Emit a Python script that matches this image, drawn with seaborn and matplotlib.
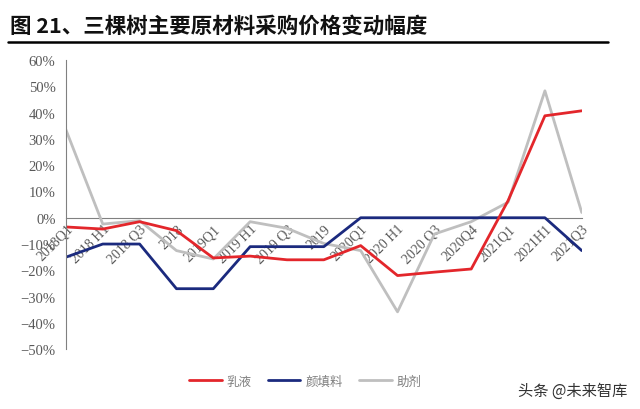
import matplotlib
matplotlib.use('Agg')
import matplotlib.pyplot as plt
import pandas as pd
import seaborn as sns
from matplotlib.ticker import PercentFormatter
from matplotlib.lines import Line2D

periods = ['2018Q1', '2018 H1', '2018 Q3', '2018', '2019Q1', '2019 H1', '2019 Q3', '2019',
           '2020Q1', '2020 H1', '2020 Q3', '2020Q4', '2021Q1', '2021H1', '2021Q3']
emulsion = [-3.5, -4.3, -1.5, -4.9, -15.3, -14.6, -16.0, -16.0, -10.6, -22.0, -20.7, -19.5, 6.5, 38.8, 40.7]
pigment = [-15.0, -10.0, -10.0, -27.0, -27.0, -11.0, -11.0, -11.0, 0, 0, 0, 0, 0, 0, -12.5]
additive = [33.5, -2.4, -1.1, -12.5, -15.7, -1.5, -4.0, -9.8, -12.5, -35.8, -6.2, -1.5, 5.9, 48.3, 2.0]
series_names = ['乳液', '颜填料', '助剂']
colors = ['#e3262b', '#1b2a7e', '#bfbfbf']

df = pd.DataFrame({'idx': list(range(len(periods))) * 3,
                   'value': emulsion + pigment + additive,
                   'series': [series_names[0]] * 15 + [series_names[1]] * 15 + [series_names[2]] * 15})

sns.set_style('white')
plt.rcParams['font.family'] = ['Noto Sans CJK SC', 'DejaVu Sans']

fig = plt.figure(figsize=(6.4, 4.1), dpi=100)
ax = fig.add_axes([0.103, 0.146, 0.806, 0.705])

# grey first so red/blue sit on top
order = ['助剂', '颜填料', '乳液']
pal = dict(zip(series_names, colors))
for name in order:
    sub = df[df['series'] == name]
    sns.lineplot(data=sub, x='idx', y='value', color=pal[name], linewidth=2.0, ax=ax, legend=False)

ax.set_xlim(0, 14)
ax.set_ylim(-50, 60)
ax.set_yticks(range(-50, 61, 10))
ax.yaxis.set_major_formatter(PercentFormatter(xmax=100, decimals=0))
ax.set_xlabel('')
ax.set_ylabel('')

for s in ['top', 'right']:
    ax.spines[s].set_visible(False)
ax.spines['bottom'].set_position(('data', 0))
ax.spines['bottom'].set_color('#808080')
ax.spines['left'].set_color('#808080')
ax.spines['bottom'].set_zorder(0.5)

ax.set_xticks(range(len(periods)))
ax.set_xticklabels(periods, rotation=45, ha='right', va='top', rotation_mode='anchor',
                   family='Liberation Serif', fontsize=10, color='#595959')
ax.tick_params(axis='x', direction='in', length=5, color='#808080', pad=3)
ax.tick_params(axis='y', direction='out', length=4, color='#808080', labelsize=10.5, labelcolor='#595959')
for lab in ax.get_yticklabels():
    lab.set_family('Liberation Serif')

handles = [Line2D([0], [0], color=c, linewidth=2.0) for c in colors]
fig.legend(handles, series_names, loc='center', bbox_to_anchor=(0.477, 0.068), ncol=3, frameon=False,
           handlelength=2.6, handletextpad=0.4, columnspacing=1.3, prop={'size': 9}, labelcolor='#7f7f7f')

fig.text(0.015, 0.935, '图 21、三棵树主要原材料采购价格变动幅度', fontsize=15.5, fontweight='bold', color='#111111',
         va='center', ha='left')
fig.add_artist(Line2D([0.013, 0.95], [0.895, 0.895], color='black', linewidth=1.8))
fig.text(0.98, 0.045, '头条 @未来智库', fontsize=11, color='#333333', ha='right', va='center')

fig.savefig('out.png', dpi=100)
